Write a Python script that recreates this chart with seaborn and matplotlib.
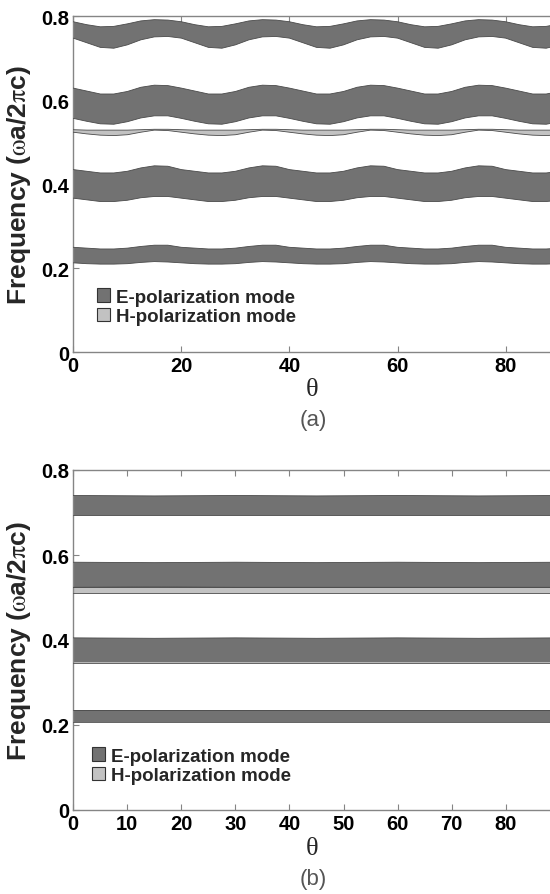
import matplotlib
matplotlib.use("Agg")
import matplotlib.pyplot as plt
from matplotlib.patches import Patch
import seaborn as sns

# ---------------- data ----------------
theta_a = [0, 2.5, 5, 7.5, 10, 12.5, 15, 17.5,
           20, 22.5, 25, 27.5, 30, 32.5, 35, 37.5,
           40, 42.5, 45, 47.5, 50, 52.5, 55, 57.5,
           60, 62.5, 65, 67.5, 70, 72.5, 75, 77.5,
           80, 82.5, 85, 87.5, 90]

a_band1_hi = [0.787, 0.780, 0.775, 0.776, 0.782, 0.789, 0.792, 0.791,
              0.787, 0.780, 0.775, 0.776, 0.782, 0.789, 0.792, 0.791,
              0.787, 0.780, 0.775, 0.776, 0.782, 0.789, 0.792, 0.791,
              0.787, 0.780, 0.775, 0.776, 0.782, 0.789, 0.792, 0.791,
              0.787, 0.780, 0.775, 0.776, 0.782]
a_band1_lo = [0.748, 0.737, 0.726, 0.724, 0.732, 0.744, 0.751, 0.752,
              0.748, 0.737, 0.726, 0.724, 0.732, 0.744, 0.751, 0.752,
              0.748, 0.737, 0.726, 0.724, 0.732, 0.744, 0.751, 0.752,
              0.748, 0.737, 0.726, 0.724, 0.732, 0.744, 0.751, 0.752,
              0.748, 0.737, 0.726, 0.724, 0.732]
a_band2_hi = [0.629, 0.622, 0.615, 0.615, 0.621, 0.631, 0.636, 0.635,
              0.629, 0.622, 0.615, 0.615, 0.621, 0.631, 0.636, 0.635,
              0.629, 0.622, 0.615, 0.615, 0.621, 0.631, 0.636, 0.635,
              0.629, 0.622, 0.615, 0.615, 0.621, 0.631, 0.636, 0.635,
              0.629, 0.622, 0.615, 0.615, 0.621]
a_band2_lo = [0.557, 0.550, 0.544, 0.543, 0.549, 0.558, 0.563, 0.563,
              0.557, 0.550, 0.544, 0.543, 0.549, 0.558, 0.563, 0.563,
              0.557, 0.550, 0.544, 0.543, 0.549, 0.558, 0.563, 0.563,
              0.557, 0.550, 0.544, 0.543, 0.549, 0.558, 0.563, 0.563,
              0.557, 0.550, 0.544, 0.543, 0.549]
a_h_hi = [0.530, 0.529, 0.529, 0.529, 0.529, 0.530, 0.531, 0.531,
          0.530, 0.529, 0.529, 0.529, 0.529, 0.530, 0.531, 0.531,
          0.530, 0.529, 0.529, 0.529, 0.529, 0.530, 0.531, 0.531,
          0.530, 0.529, 0.529, 0.529, 0.529, 0.530, 0.531, 0.531,
          0.530, 0.529, 0.529, 0.529, 0.529]
a_h_lo = [0.524, 0.520, 0.517, 0.516, 0.518, 0.524, 0.529, 0.528,
          0.524, 0.520, 0.517, 0.516, 0.518, 0.524, 0.529, 0.528,
          0.524, 0.520, 0.517, 0.516, 0.518, 0.524, 0.529, 0.528,
          0.524, 0.520, 0.517, 0.516, 0.518, 0.524, 0.529, 0.528,
          0.524, 0.520, 0.517, 0.516, 0.518]
a_band3_hi = [0.435, 0.431, 0.427, 0.427, 0.431, 0.439, 0.444, 0.443,
              0.435, 0.431, 0.427, 0.427, 0.431, 0.439, 0.444, 0.443,
              0.435, 0.431, 0.427, 0.427, 0.431, 0.439, 0.444, 0.443,
              0.435, 0.431, 0.427, 0.427, 0.431, 0.439, 0.444, 0.443,
              0.435, 0.431, 0.427, 0.427, 0.431]
a_band3_lo = [0.367, 0.363, 0.359, 0.359, 0.362, 0.368, 0.371, 0.371,
              0.367, 0.363, 0.359, 0.359, 0.362, 0.368, 0.371, 0.371,
              0.367, 0.363, 0.359, 0.359, 0.362, 0.368, 0.371, 0.371,
              0.367, 0.363, 0.359, 0.359, 0.362, 0.368, 0.371, 0.371,
              0.367, 0.363, 0.359, 0.359, 0.362]
a_band4_hi = [0.250, 0.248, 0.246, 0.246, 0.248, 0.252, 0.255, 0.255,
              0.250, 0.248, 0.246, 0.246, 0.248, 0.252, 0.255, 0.255,
              0.250, 0.248, 0.246, 0.246, 0.248, 0.252, 0.255, 0.255,
              0.250, 0.248, 0.246, 0.246, 0.248, 0.252, 0.255, 0.255,
              0.250, 0.248, 0.246, 0.246, 0.248]
a_band4_lo = [0.213, 0.211, 0.210, 0.210, 0.211, 0.214, 0.216, 0.215,
              0.213, 0.211, 0.210, 0.210, 0.211, 0.214, 0.216, 0.215,
              0.213, 0.211, 0.210, 0.210, 0.211, 0.214, 0.216, 0.215,
              0.213, 0.211, 0.210, 0.210, 0.211, 0.214, 0.216, 0.215,
              0.213, 0.211, 0.210, 0.210, 0.211]

theta_b = [0, 15, 30, 45, 60, 75, 90]
b_band1_hi = [0.740, 0.739, 0.740, 0.739, 0.740, 0.739, 0.740]
b_band1_lo = [0.693, 0.693, 0.693, 0.693, 0.693, 0.693, 0.693]
b_band2_hi = [0.583, 0.582, 0.583, 0.582, 0.583, 0.582, 0.583]
b_band2_lo = [0.524, 0.524, 0.524, 0.524, 0.524, 0.524, 0.524]
b_h_hi = [0.524, 0.525, 0.524, 0.524, 0.524, 0.524, 0.524]
b_h_lo = [0.510, 0.510, 0.510, 0.510, 0.510, 0.510, 0.510]
b_band3_hi = [0.405, 0.404, 0.405, 0.404, 0.405, 0.404, 0.405]
b_band3_lo = [0.347, 0.347, 0.347, 0.347, 0.347, 0.347, 0.347]
b_band4_hi = [0.236, 0.236, 0.236, 0.236, 0.236, 0.236, 0.236]
b_band4_lo = [0.206, 0.206, 0.206, 0.206, 0.206, 0.206, 0.206]

y_ticks = [0, 0.2, 0.4, 0.6, 0.8]
y_tick_labels = ["0", "0.2", "0.4", "0.6", "0.8"]
x_ticks_a = [0, 20, 40, 60, 80]
x_ticks_b = [0, 10, 20, 30, 40, 50, 60, 70, 80]
legend_labels = ["E-polarization mode", "H-polarization mode"]

# ---------------- style ----------------
E_COLOR = "#727272"
H_COLOR = "#c2c2c2"
EDGE = "#4a4a4a"
AXIS_GRAY = "#858585"

sns.set_style("white")
plt.rcParams["font.family"] = ["Liberation Sans", "DejaVu Sans"]
plt.rcParams["mathtext.fontset"] = "stix"

fig = plt.figure(figsize=(5.5, 8.95), dpi=100)
W, H = 550.0, 895.0
ax_a = fig.add_axes([73.3 / W, 1 - 353.3 / H, 1 - 73.3 / W, (353.3 - 17.3) / H])
ax_b = fig.add_axes([73.3 / W, 1 - 811 / H, 1 - 73.3 / W, (811 - 471) / H])


def draw_bands(ax, theta, bands):
    for lo, hi, kind in bands:
        col = E_COLOR if kind == "E" else H_COLOR
        ax.fill_between(theta, lo, hi, facecolor=col, edgecolor="none",
                        linewidth=0, zorder=2)
    for lo, hi, kind in bands:
        sns.lineplot(x=theta, y=lo, ax=ax, color=EDGE, linewidth=0.6, zorder=3)
        sns.lineplot(x=theta, y=hi, ax=ax, color=EDGE, linewidth=0.6, zorder=3)


draw_bands(ax_a, theta_a, [
    (a_band1_lo, a_band1_hi, "E"),
    (a_band2_lo, a_band2_hi, "E"),
    (a_h_lo, a_h_hi, "H"),
    (a_band3_lo, a_band3_hi, "E"),
    (a_band4_lo, a_band4_hi, "E"),
])
draw_bands(ax_b, theta_b, [
    (b_band1_lo, b_band1_hi, "E"),
    (b_band2_lo, b_band2_hi, "E"),
    (b_h_lo, b_h_hi, "H"),
    (b_band3_lo, b_band3_hi, "E"),
    (b_band4_lo, b_band4_hi, "E"),
])

ylabel = r"Frequency ($\mathrm{\omega}$a/2$\mathrm{\pi}$c)"
for ax, xt, leg_xy in [(ax_a, x_ticks_a, (0.0497, 0.190)),
                       (ax_b, x_ticks_b, (0.0386, 0.184))]:
    ax.set_xlim(0, 88.2)
    ax.set_ylim(0, 0.8)
    ax.set_xticks(xt)
    ax.set_xticklabels([str(v) for v in xt])
    ax.set_yticks(y_ticks)
    ax.set_yticklabels(y_tick_labels)
    ax.tick_params(direction="in", length=4, width=0.8, color=AXIS_GRAY,
                   top=True, right=False, bottom=True, left=True,
                   labelsize=14.5, pad=3, labelcolor="black")
    for lab in ax.get_xticklabels() + ax.get_yticklabels():
        lab.set_fontweight("bold")
    for side in ["left", "bottom", "top"]:
        ax.spines[side].set_visible(True)
        ax.spines[side].set_color(AXIS_GRAY)
        ax.spines[side].set_linewidth(1.0)
    ax.spines["right"].set_visible(False)
    ax.set_xlabel("")
    ax.set_ylabel(ylabel, fontsize=19, fontweight="bold")
    ax.yaxis.set_label_coords(-0.084, 0.5)

    handles = [Patch(facecolor=E_COLOR, edgecolor="#333333", linewidth=0.8,
                     label=legend_labels[0]),
               Patch(facecolor=H_COLOR, edgecolor="#333333", linewidth=0.8,
                     label=legend_labels[1])]
    ax.legend(handles=handles, loc="upper left", bbox_to_anchor=leg_xy,
              frameon=False, borderpad=0, borderaxespad=0,
              handlelength=0.72, handleheight=0.72, handletextpad=0.3,
              labelspacing=0.1, prop={"weight": "bold", "size": 13.5})

# x labels (theta) and panel tags
fig.text(312 / W, 1 - 390 / H, "θ", ha="center", va="center",
         family=["Liberation Serif", "DejaVu Serif"], fontsize=19)
fig.text(312 / W, 1 - 849 / H, "θ", ha="center", va="center",
         family=["Liberation Serif", "DejaVu Serif"], fontsize=19)
fig.text(313 / W, 1 - 421 / H, "(a)", ha="center", va="center",
         color="#555555", fontsize=16)
fig.text(313 / W, 1 - 880 / H, "(b)", ha="center", va="center",
         color="#555555", fontsize=16)

fig.savefig("out.png", dpi=100, facecolor="white")
